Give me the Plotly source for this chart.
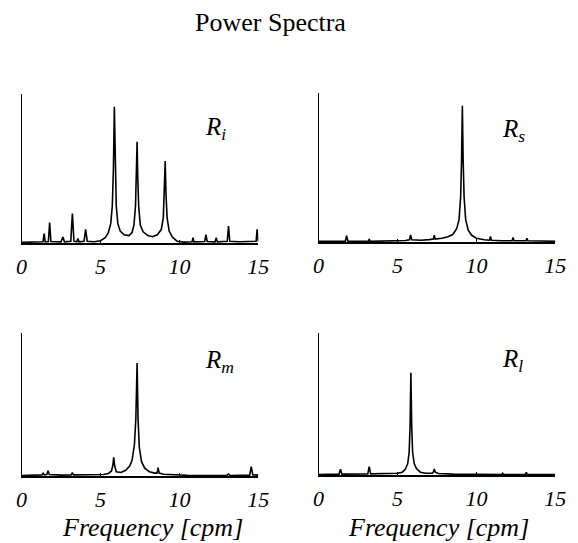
import plotly.graph_objects as go

W, H = 578, 543

# ---- data (frequency in cpm, relative power) ----
ri_freq = [0, 0.6, 1.2, 1.36, 1.43, 1.50, 1.70, 1.78, 1.86, 2.5, 2.62, 2.72, 3.12, 3.22, 3.32, 3.50, 3.57, 3.64,
           3.96, 4.06, 4.16, 4.6, 5.0, 5.3, 5.5, 5.65, 5.75, 5.82, 5.88, 5.94, 6.0, 6.1, 6.25, 6.5, 6.8, 7.0, 7.12,
           7.22, 7.28, 7.32, 7.36, 7.42, 7.52, 7.7, 8.0, 8.3, 8.6, 8.85, 8.98, 9.05, 9.10, 9.15, 9.22, 9.35, 9.55,
           9.85, 10.3, 10.8, 10.86, 10.92, 11.6, 11.68, 11.76, 12.26, 12.33, 12.40, 13.03, 13.11, 13.19, 13.8, 14.6,
           14.86, 14.92, 14.98, 15.0]
ri_power = [0.004, 0.004, 0.006, 0.008, 0.063, 0.008, 0.01, 0.137, 0.01, 0.008, 0.04, 0.008, 0.012, 0.197, 0.012,
            0.008, 0.03, 0.008, 0.012, 0.092, 0.012, 0.008, 0.015, 0.035, 0.07, 0.13, 0.25, 0.5, 0.915, 0.5, 0.25,
            0.13, 0.08, 0.055, 0.05, 0.07, 0.12, 0.25, 0.45, 0.68, 0.45, 0.25, 0.12, 0.075, 0.05, 0.042, 0.055, 0.09,
            0.17, 0.33, 0.55, 0.33, 0.17, 0.08, 0.04, 0.012, 0.006, 0.008, 0.036, 0.008, 0.01, 0.056, 0.01, 0.008,
            0.036, 0.008, 0.012, 0.114, 0.012, 0.008, 0.008, 0.012, 0.092, 0.01, 0.01]

rs_freq = [0, 1.7, 1.78, 1.86, 3.15, 3.21, 3.27, 5.0, 5.5, 5.76, 5.83, 5.9, 6.5, 7.0, 7.27, 7.33, 7.39, 7.8, 8.2,
           8.5, 8.75, 8.9, 9.0, 9.06, 9.11, 9.16, 9.22, 9.32, 9.48, 9.7, 10.0, 10.5, 10.83, 10.89, 10.95, 11.6,
           12.26, 12.32, 12.38, 13.14, 13.2, 13.26, 14.0, 15.0]
rs_power = [0.004, 0.005, 0.042, 0.005, 0.004, 0.02, 0.004, 0.006, 0.01, 0.015, 0.047, 0.015, 0.012, 0.016, 0.02,
            0.045, 0.02, 0.025, 0.035, 0.05, 0.09, 0.15, 0.3, 0.55, 0.915, 0.55, 0.3, 0.15, 0.08, 0.045, 0.025,
            0.015, 0.012, 0.038, 0.012, 0.008, 0.008, 0.03, 0.008, 0.008, 0.025, 0.008, 0.005, 0.005]

rm_freq = [0, 1.0, 1.3, 1.37, 1.44, 1.6, 1.68, 1.76, 2.5, 3.15, 3.22, 3.29, 4.5, 5.2, 5.5, 5.7, 5.79, 5.84, 5.9,
           6.0, 6.3, 6.6, 6.85, 7.0, 7.15, 7.24, 7.32, 7.38, 7.46, 7.6, 7.8, 8.1, 8.45, 8.58, 8.65, 8.72, 9.0, 9.5,
           10.5, 13.0, 13.1, 13.2, 14.45, 14.55, 14.65, 15.0]
rm_power = [0.004, 0.004, 0.008, 0.02, 0.008, 0.01, 0.037, 0.01, 0.006, 0.008, 0.023, 0.008, 0.006, 0.01, 0.018,
            0.035, 0.08, 0.13, 0.07, 0.03, 0.025, 0.04, 0.07, 0.11, 0.22, 0.4, 0.79, 0.4, 0.2, 0.1, 0.055, 0.03,
            0.02, 0.02, 0.058, 0.02, 0.012, 0.008, 0.005, 0.004, 0.014, 0.004, 0.006, 0.065, 0.008, 0.006]

rl_freq = [0, 1.3, 1.39, 1.48, 3.12, 3.21, 3.3, 4.5, 5.0, 5.3, 5.5, 5.65, 5.74, 5.80, 5.85, 5.9, 5.96, 6.06, 6.2,
           6.45, 6.8, 7.2, 7.27, 7.33, 7.4, 7.6, 8.5, 11.6, 11.66, 11.72, 13.1, 13.16, 13.22, 15.0]
rl_power = [0.004, 0.006, 0.04, 0.006, 0.008, 0.059, 0.008, 0.008, 0.012, 0.02, 0.04, 0.08, 0.16, 0.35, 0.72, 0.35,
            0.16, 0.08, 0.045, 0.02, 0.012, 0.012, 0.02, 0.042, 0.02, 0.01, 0.006, 0.004, 0.012, 0.004, 0.004,
            0.019, 0.004, 0.004]

tick_vals = [0, 5, 10, 15]
tick_text = ["0", "5", "10", "15"]
panel_labels = ["R<sub>i</sub>", "R<sub>s</sub>", "R<sub>m</sub>", "R<sub>l</sub>"]
title_text = "Power Spectra"
xlabel_text = "Frequency [cpm]"

FONT = "Liberation Serif"

# panel pixel boxes: (left, right, top, bottom)
boxes = [(16, 260, 94, 243), (322, 566, 93, 242), (16, 260, 333, 476), (322, 566, 333, 475)]
series = [(ri_freq, ri_power), (rs_freq, rs_power), (rm_freq, rm_power), (rl_freq, rl_power)]

fig = go.Figure()
layout = dict(width=W, height=H, margin=dict(l=0, r=0, t=0, b=0), paper_bgcolor="white",
              plot_bgcolor="white", showlegend=False)

for i, ((l, r, t, b), (fx, fy)) in enumerate(zip(boxes, series)):
    k = "" if i == 0 else str(i + 1)
    fig.add_trace(go.Scatter(x=fx, y=fy, mode="lines", line=dict(color="black", width=1.6),
                             xaxis="x" + k, yaxis="y" + k, hoverinfo="skip"))
    layout["xaxis" + k] = dict(domain=[l / W, r / W], range=[0, 15], anchor="y" + k,
                               showline=True, linecolor="black", linewidth=1.5, showgrid=False,
                               zeroline=False, tickvals=tick_vals, ticktext=tick_text,
                               ticks="inside", ticklen=3, tickcolor="black",
                               ticklabelstandoff=3,
                               tickfont=dict(family=FONT, size=22, color="black", style="italic"))
    layout["yaxis" + k] = dict(domain=[1 - b / H, 1 - t / H], range=[0, 1], anchor="x" + k,
                               showline=True, linecolor="black", linewidth=1.2, showgrid=False,
                               zeroline=False, showticklabels=False, ticks="")

annotations = [dict(text=title_text, x=273 / W, y=1 - 22 / H, xref="paper", yref="paper",
                    showarrow=False, xanchor="center", yanchor="middle",
                    font=dict(family=FONT, size=26, color="black"))]
label_pos = [(203, 129), (509, 130), (203, 361), (509, 360)]
for txt, (px, py) in zip(panel_labels, label_pos):
    annotations.append(dict(text=txt, x=px / W, y=1 - py / H, xref="paper", yref="paper",
                            showarrow=False, xanchor="left", yanchor="middle",
                            font=dict(family=FONT, size=25, color="black", style="italic")))
for px in (151, 446):
    annotations.append(dict(text=xlabel_text, x=px / W, y=1 - 527 / H, xref="paper", yref="paper",
                            showarrow=False, xanchor="center", yanchor="middle", borderpad=0,
                            font=dict(family=FONT, size=26, color="black", style="italic")))
layout["annotations"] = annotations

fig.update_layout(**layout)
fig.write_html("out.html")
